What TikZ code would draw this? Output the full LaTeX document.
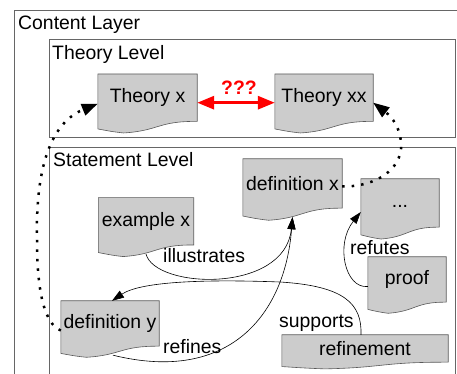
\documentclass[tikz,border=0pt]{standalone}
\usepackage{fontspec}
\setmainfont{Liberation Sans}
\usetikzlibrary{arrows.meta,backgrounds,calc}

\newcommand\diagfont{\fontsize{19.4}{23}\selectfont}
% paper sheet with a wavy lower edge, drawn round a named node
\newcommand\docshape[1]{%
  \path[docfill] let \p1=(#1.north west), \p2=(#1.south east),
    \n1={\x2-\x1}, \n2={(\y1-\y2)/0.8037} in
    (\p1) -- (\x2,\y1) -- (\p2)
    .. controls ({\x1+0.604*\n1},{\y1-0.797*\n2}) and ({\x1+0.618*\n1},{\y1-0.9616*\n2}) .. ({\x1+0.26*\n1},{\y1-\n2})
    .. controls ({\x1+0.132*\n1},{\y1-0.977*\n2}) and ({\x1+0.0856*\n1},{\y1-0.958*\n2}) .. ({\x1},{\y1-0.9315*\n2}) -- cycle;}

\begin{document}
\begin{tikzpicture}[x=1pt, y=1pt, font=\diagfont,
	doc/.style 2 args={inner sep=0pt, minimum width=#1, minimum height=#2},
	docfill/.style={fill=gray!40, draw=black!65, line width=0.6pt},
	frame/.style={draw=black!60, line width=0.9pt},
	lbl/.style={inner sep=0pt, anchor=base west},
	rel/.style={line width=0.6pt, -{Triangle[length=12pt,width=8pt]}},
	link/.style={line width=2.5pt, dash pattern=on 2.5pt off 7pt, -{Triangle[length=16pt,width=12pt]}}]
\useasboundingbox (0,0) rectangle (457,374);

\draw[frame] (457,364) -- (14,364) -- (14,0);
\draw[frame] (49,237) rectangle (455,335);
\draw[frame] (49,0) -- (49,227) -- (455,227) -- (455,0);
\node[lbl] (layer) at (18,344.5) {Content Layer};
\node[lbl] (theory) at (52,314.7) {Theory Level};
\node[lbl] (statement) at (53,207.3) {Statement Level};

\node[doc={99}{47}] (tx) at (147.5,276.3) {Theory x};
\node[doc={98}{47}] (txx) at (324,276.3) {Theory xx};
\node[doc={99}{49}] (dx) at (292.5,190.5) {definition x};
\node[doc={78}{48}, text height=14pt, text depth=4pt] (dots) at (400,171) {...};
\node[doc={95}{47}] (ex) at (146,152.7) {example x};
\node[doc={78}{45}] (pf) at (407,94.5) {proof};
\node[doc={98}{45}] (dy) at (110,50.5) {definition y};
\node[doc={166}{27}] (rf) at (365,25.5) {refinement};

\begin{scope}[on background layer]
\foreach \dname in {tx,txx,dx,dots,ex,pf,dy,rf} {\docshape{\dname}}
\end{scope}

\draw[red, line width=3pt, {Triangle[length=17pt,width=13pt]}-{Triangle[length=17pt,width=13pt]}]
	([yshift=-5pt]tx.east) -- ([yshift=-5pt]txx.west);
\node[inner sep=0pt, anchor=base, text=red, font=\diagfont\bfseries] (what) at (239,279.7) {???};

\draw[link] ([yshift=-7pt]dy.west) .. controls (45,50) and (37,80) .. (37,134)
	.. controls (35,225) and (60,255) .. ([yshift=-6pt]tx.west);
\draw[link] ([yshift=-3pt]dx.east) .. controls (370,187) and (398,200) .. (401,225)
	.. controls (402,245) and (392,257) .. ([yshift=-5pt]txx.east);

\draw[rel] ([yshift=-9pt]ex.south) .. controls (155,85) and (285,80) .. ([yshift=-9pt]dx.south);
\draw[rel] ([xshift=3pt,yshift=-9pt]dy.south) .. controls (230,-10) and (285,60) .. ([yshift=-9pt]dx.south);
\draw[rel] ([xshift=-4pt]rf.north) .. controls (362,70) and (345,88) .. (280,92)
	.. controls (200,95) and (140,92) .. ([xshift=2pt]dy.north);
\draw[rel] ([yshift=-7pt]pf.west) .. controls (345,85) and (335,130) .. ([yshift=-9pt]dots.west);

\node[lbl] (illus) at (163,111.3) {illustrates};
\node[lbl] (refines) at (163,20.5) {refines};
\node[lbl] (supports) at (279,46.5) {supports};
\node[lbl] (refutes) at (350,119.7) {refutes};
\end{tikzpicture}
\end{document}
